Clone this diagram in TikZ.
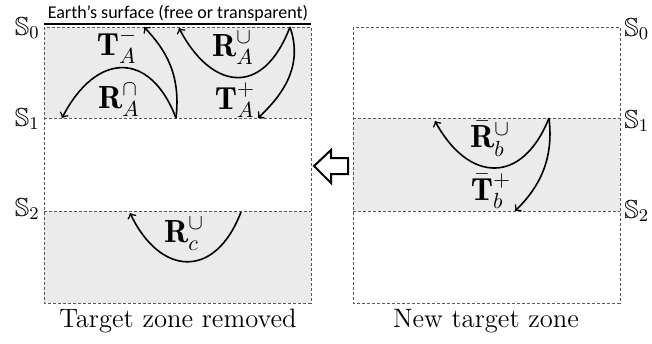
\documentclass[tikz,border=0pt]{standalone}
\usepackage{amsmath, amssymb}
\usepackage{fontspec}
\newfontfamily\earthfont{Carlito}

\begin{document}
\begin{tikzpicture}[x=0.5pt,y=-0.5pt,
    layer/.style={fill=black!8},
    bound/.style={draw=black!65, line width=0.4pt, dash pattern=on 1.5pt off 1pt},
    ray/.style={line width=0.8pt, ->},
    lbl/.style={font=\fontsize{16}{18}\selectfont, inner sep=0pt},
    level/.style={font=\fontsize{13}{15}\selectfont, inner sep=1pt},
    caption/.style={font=\fontsize{13.3}{16}\selectfont}]
    \useasboundingbox (0,0) rectangle (652,343);

    % left column: target zone removed
    \coordinate (l0) at (44,27);
    \coordinate (l1) at (311,118);
    \coordinate (l2) at (44,211);
    \coordinate (l3) at (311,303);
    \fill[layer] (l0) rectangle (l1);
    \fill[layer] (l2) rectangle (l3);
    \draw[bound] (l0) rectangle (l3);
    \draw[bound] (44,118) -- (l1);
    \draw[bound] (l2) -- (311,211);
    \draw[line width=1.2pt] (44,24) -- (311,24);
    \node[anchor=base] (earth) at (178,18) {\earthfont\fontsize{9}{10}\selectfont Earth’s surface (free or transparent)};

    % right column: new target zone
    \coordinate (r0) at (353,27);
    \coordinate (r1) at (353,118);
    \coordinate (r2) at (620,211);
    \coordinate (r3) at (620,303);
    \fill[layer] (r1) rectangle (r2);
    \draw[bound] (r0) rectangle (r3);
    \draw[bound] (r1) -- (620,118);
    \draw[bound] (353,211) -- (r2);

    % depth levels
    \node[level, anchor=east] (sl0) at (42,28)  {$\mathbb{S}_0$};
    \node[level, anchor=east] (sl1) at (42,119) {$\mathbb{S}_1$};
    \node[level, anchor=east] (sl2) at (42,209) {$\mathbb{S}_2$};
    \node[level, anchor=west] (sr0) at (622,29)  {$\mathbb{S}_0$};
    \node[level, anchor=west] (sr1) at (622,121) {$\mathbb{S}_1$};
    \node[level, anchor=west] (sr2) at (622,211) {$\mathbb{S}_2$};

    % rays in the removed layer
    \coordinate (a1) at (176,118);
    \coordinate (a2) at (290,27);
    \draw[ray] (a1) .. controls (181,75) and (166,50) .. (144,27);
    \draw[ray] (a1) .. controls (150,50) and (96,52) .. (62,118);
    \draw[ray] (a2) .. controls (262,100) and (210,88) .. (179,28);
    \draw[ray] (a2) .. controls (302,62) and (288,90) .. (258,118);
    \node[lbl] (tam) at (117,46)  {$\mathbf{T}_A^-$};
    \node[lbl] (rau) at (233,48)  {$\mathbf{R}_A^\cup$};
    \node[lbl] (ran) at (119,100) {$\mathbf{R}_A^\cap$};
    \node[lbl] (tap) at (235,100) {$\mathbf{T}_A^+$};

    % rays below
    \coordinate (c1) at (241,212);
    \draw[ray] (c1) .. controls (215,280) and (160,276) .. (130,213);
    \node[lbl] (rcu) at (184,234) {$\mathbf{R}_c^\cup$};

    % rays in the new target layer
    \coordinate (b1) at (549,118);
    \draw[ray] (b1) .. controls (522,186) and (468,182) .. (435,121);
    \draw[ray] (b1) .. controls (553,152) and (545,182) .. (515,211);
    \node[lbl] (rbu) at (490,139) {$\bar{\mathbf{R}}_b^\cup$};
    \node[lbl] (tbp) at (491,191) {$\bar{\mathbf{T}}_b^+$};

    % hollow arrow between the columns
    \draw[line width=1pt, fill=white] (314,166) -- (331,150) -- (331,158) -- (348,158)
        -- (348,174) -- (331,174) -- (331,183) -- cycle;

    \node[caption] (capl) at (178,321) {Target zone removed};
    \node[caption] (capr) at (486,321) {New target zone};
\end{tikzpicture}
\end{document}
